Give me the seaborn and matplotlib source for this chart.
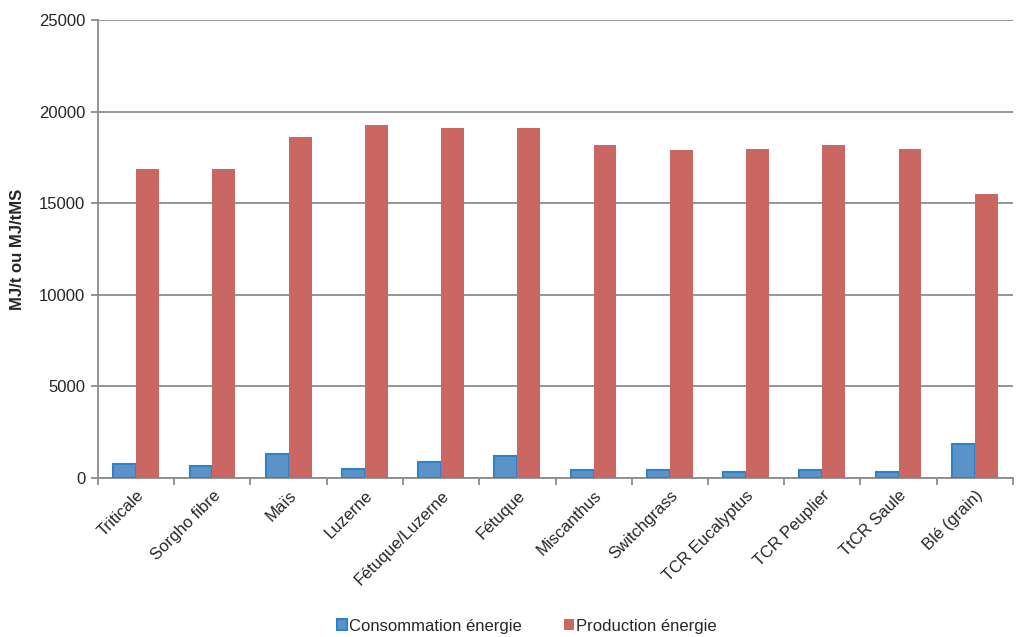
import matplotlib
matplotlib.use("Agg")
import matplotlib.pyplot as plt
import seaborn as sns
import pandas as pd
from matplotlib.patches import Patch

categories = ["Triticale", "Sorgho fibre", "Maïs", "Luzerne", "Fétuque/Luzerne", "Fétuque",
              "Miscanthus", "Switchgrass", "TCR Eucalyptus", "TCR Peuplier", "TtCR Saule", "Blé (grain)"]
consommation = [750, 650, 1300, 510, 890, 1200, 420, 420, 330, 420, 330, 1860]
production = [16850, 16850, 18600, 19250, 19080, 19080, 18180, 17880, 17980, 18180, 17980, 15500]
series_names = ["Consommation énergie", "Production énergie"]
yticks = [0, 5000, 10000, 15000, 20000, 25000]

df = pd.DataFrame({
    "cat": categories * 2,
    "val": consommation + production,
    "serie": [series_names[0]] * len(categories) + [series_names[1]] * len(categories),
})

sns.set_style("white")
plt.rcParams["font.family"] = ["Liberation Sans", "DejaVu Sans"]

blue_face = "#5B93C8"
blue_edge = "#2C83C8"
red = "#CB6762"
fs = 12

fig = plt.figure(figsize=(10.27, 6.37), dpi=100)
ax = fig.add_axes([98 / 1027, 1 - 478 / 637, (1013 - 98) / 1027, (478 - 20) / 637])

sns.barplot(data=df, x="cat", y="val", hue="serie", palette=[blue_face, red],
            width=0.6, gap=0, saturation=1, ax=ax, legend=False, zorder=3)

n = len(categories)
for i, p in enumerate(ax.patches):
    if i < n:
        p.set_edgecolor(blue_edge)
        p.set_linewidth(1.5)
    else:
        p.set_edgecolor("none")

ax.set_ylim(0, 25000)
ax.set_xlim(-0.5, n - 0.5)
ax.set_yticks(yticks)
ax.set_yticklabels([str(v) for v in yticks], fontsize=fs)
ax.yaxis.grid(True, color="#8C8C8C", linewidth=1.3, zorder=0)
ax.set_axisbelow(True)

for s in ["top", "right"]:
    ax.spines[s].set_visible(False)
for s in ["left", "bottom"]:
    ax.spines[s].set_color("#8C8C8C")
    ax.spines[s].set_linewidth(1.3)

ax.set_xticks(range(n))
ax.set_xticklabels(categories, rotation=45, ha="right", rotation_mode="anchor", fontsize=fs)
ax.tick_params(axis="x", length=0, pad=7)
ax.tick_params(axis="y", length=5, color="#8C8C8C", width=1.3, direction="out", left=True, pad=4)
ax.set_xticks([i - 0.5 for i in range(n + 1)], minor=True)
ax.tick_params(axis="x", which="minor", length=5, color="#8C8C8C", width=1.3, direction="out", bottom=True)

ax.set_xlabel("")
ax.set_ylabel("MJ/t ou MJ/tMS", fontsize=fs, fontweight="bold", labelpad=10)

handles = [Patch(facecolor=blue_face, edgecolor=blue_edge, linewidth=1.5, label=series_names[0]),
           Patch(facecolor=red, edgecolor="none", label=series_names[1])]
fig.legend(handles=handles, loc="center", bbox_to_anchor=(527 / 1027, 1 - 626 / 637), ncol=2,
           frameon=False, fontsize=fs, handlelength=0.6, handleheight=0.6,
           handletextpad=0.15, columnspacing=2.5)

fig.savefig("out.png", dpi=100)
